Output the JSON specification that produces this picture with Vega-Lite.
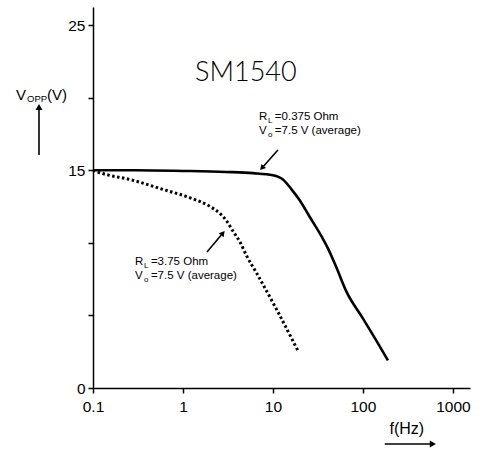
{
  "$schema": "https://vega.github.io/schema/vega-lite/v6.json",
  "width": 377,
  "height": 381,
  "autosize": "none",
  "padding": {"left": 93, "top": 7, "right": 13, "bottom": 62},
  "background": "white",
  "config": {
    "view": {"stroke": null},
    "axis": {
      "grid": false,
      "domainColor": "black",
      "domainWidth": 1.5,
      "tickColor": "black",
      "tickWidth": 1.5,
      "tickSize": 5,
      "labelColor": "black",
      "labelFont": "Liberation Sans",
      "labelFontSize": 15.5,
      "title": null
    }
  },
  "datasets": {
    "curves": [
      {"f": 0.1, "v": 15, "load": "0.375 Ohm"},
      {"f": 0.3, "v": 15, "load": "0.375 Ohm"},
      {"f": 1, "v": 14.95, "load": "0.375 Ohm"},
      {"f": 3, "v": 14.88, "load": "0.375 Ohm"},
      {"f": 6, "v": 14.8, "load": "0.375 Ohm"},
      {"f": 10, "v": 14.65, "load": "0.375 Ohm"},
      {"f": 13, "v": 14.35, "load": "0.375 Ohm"},
      {"f": 16, "v": 13.7, "load": "0.375 Ohm"},
      {"f": 20, "v": 12.9, "load": "0.375 Ohm"},
      {"f": 25, "v": 11.9, "load": "0.375 Ohm"},
      {"f": 35, "v": 10.4, "load": "0.375 Ohm"},
      {"f": 41, "v": 9.6, "load": "0.375 Ohm"},
      {"f": 50, "v": 8.4, "load": "0.375 Ohm"},
      {"f": 66, "v": 6.6, "load": "0.375 Ohm"},
      {"f": 100, "v": 4.8, "load": "0.375 Ohm"},
      {"f": 140, "v": 3.3, "load": "0.375 Ohm"},
      {"f": 190, "v": 1.9, "load": "0.375 Ohm"},
      {"f": 0.1, "v": 15, "load": "3.75 Ohm"},
      {"f": 0.11, "v": 14.9, "load": "3.75 Ohm"},
      {"f": 0.28, "v": 14.3, "load": "3.75 Ohm"},
      {"f": 0.66, "v": 13.6, "load": "3.75 Ohm"},
      {"f": 1.2, "v": 13.1, "load": "3.75 Ohm"},
      {"f": 2.0, "v": 12.5, "load": "3.75 Ohm"},
      {"f": 2.6, "v": 12.0, "load": "3.75 Ohm"},
      {"f": 3.1, "v": 11.45, "load": "3.75 Ohm"},
      {"f": 3.6, "v": 10.8, "load": "3.75 Ohm"},
      {"f": 4.3, "v": 10.05, "load": "3.75 Ohm"},
      {"f": 5.1, "v": 9.1, "load": "3.75 Ohm"},
      {"f": 6.6, "v": 7.9, "load": "3.75 Ohm"},
      {"f": 11, "v": 5.4, "load": "3.75 Ohm"},
      {"f": 19.2, "v": 2.5, "load": "3.75 Ohm"}
    ],
    "title": [{"f": 5.0, "v": 21.7, "text": "SM1540"}],
    "notes": [
      {"f": 6.99, "v": 18.66, "text": "R"},
      {"f": 10.5, "v": 18.66, "text": "=0.375  Ohm"},
      {"f": 6.99, "v": 17.7, "text": "V"},
      {"f": 10.5, "v": 17.7, "text": "=7.5  V  (average)"},
      {"f": 0.293, "v": 8.68, "text": "R"},
      {"f": 0.44, "v": 8.68, "text": "=3.75  Ohm"},
      {"f": 0.293, "v": 7.71, "text": "V"},
      {"f": 0.44, "v": 7.71, "text": "=7.5  V  (average)"}
    ],
    "subs": [
      {"f": 8.8, "v": 18.39, "text": "L"},
      {"f": 8.8, "v": 17.42, "text": "o"},
      {"f": 0.369, "v": 8.4, "text": "L"},
      {"f": 0.369, "v": 7.44, "text": "o"}
    ],
    "axisTitles": [
      {"f": 0.0139, "v": 20.18, "text": "V"},
      {"f": 0.0308, "v": 20.18, "text": "(V)"}
    ],
    "axisSubs": [{"f": 0.0185, "v": 19.9, "text": "OPP"}],
    "xTitle": [{"f": 308, "v": -2.82, "text": "f(Hz)"}],
    "arrows": [
      {"name": "a", "f": 11.37, "v": 16.39, "f2": 7.55, "v2": 15.15},
      {"name": "b", "f": 1.85, "v": 9.37, "f2": 2.78, "v2": 10.67},
      {"name": "y", "f": 0.0251, "v": 16.05, "f2": 0.0251, "v2": 19.35},
      {"name": "x", "f": 175, "v": -3.86, "f2": 599, "v2": -3.86}
    ]
  },
  "encoding": {
    "x": {
      "field": "f",
      "type": "quantitative",
      "scale": {"type": "log", "domain": [0.1, 1550], "nice": false},
      "axis": {"values": [0.1, 1, 10, 100, 1000], "format": "~g", "labelPadding": 6, "labelFlush": false}
    },
    "y": {
      "field": "v",
      "type": "quantitative",
      "scale": {"domain": [0, 26.24], "nice": false, "zero": false},
      "axis": {
        "values": [0, 5, 10, 15, 20, 25],
        "labelExpr": "datum.value == 0 || datum.value == 15 || datum.value == 25 ? datum.label : ''",
        "labelPadding": 3
      }
    }
  },
  "layer": [
    {
      "data": {"name": "curves"},
      "transform": [{"filter": "datum.load == '0.375 Ohm'"}],
      "mark": {"type": "line", "color": "black", "strokeWidth": 2.6, "interpolate": "monotone"}
    },
    {
      "data": {"name": "curves"},
      "transform": [{"filter": "datum.load == '3.75 Ohm'"}],
      "mark": {"type": "line", "color": "black", "strokeWidth": 3, "strokeDash": [2.5, 2.5], "interpolate": "monotone"}
    },
    {
      "data": {"name": "title"},
      "mark": {"type": "text", "font": "Lato", "fontWeight": 300, "fontSize": 27, "align": "center", "baseline": "middle", "color": "black"},
      "encoding": {"text": {"field": "text"}}
    },
    {
      "data": {"name": "notes"},
      "mark": {"type": "text", "font": "Liberation Sans", "fontSize": 11.5, "align": "left", "baseline": "middle", "color": "black"},
      "encoding": {"text": {"field": "text"}}
    },
    {
      "data": {"name": "subs"},
      "mark": {"type": "text", "font": "Liberation Sans", "fontSize": 8, "align": "left", "baseline": "middle", "color": "black"},
      "encoding": {"text": {"field": "text"}}
    },
    {
      "data": {"name": "axisTitles"},
      "mark": {"type": "text", "font": "Liberation Sans", "fontSize": 15, "align": "left", "baseline": "middle", "color": "black"},
      "encoding": {"text": {"field": "text"}}
    },
    {
      "data": {"name": "axisSubs"},
      "mark": {"type": "text", "font": "Liberation Sans", "fontSize": 9.5, "align": "left", "baseline": "middle", "color": "black"},
      "encoding": {"text": {"field": "text"}}
    },
    {
      "data": {"name": "xTitle"},
      "mark": {"type": "text", "font": "Liberation Sans", "fontSize": 16, "align": "center", "baseline": "middle", "color": "black"},
      "encoding": {"text": {"field": "text"}}
    },
    {
      "data": {"name": "arrows"},
      "mark": {"type": "rule", "color": "black", "strokeWidth": 1.6},
      "encoding": {"x2": {"field": "f2"}, "y2": {"field": "v2"}}
    },
    {
      "data": {"name": "arrows"},
      "transform": [{"filter": "datum.name == 'a'"}],
      "mark": {"type": "point", "shape": "triangle-up", "filled": true, "color": "black", "size": 40, "angle": 221.6, "opacity": 1},
      "encoding": {"x": {"field": "f2", "type": "quantitative"}, "y": {"field": "v2", "type": "quantitative"}}
    },
    {
      "data": {"name": "arrows"},
      "transform": [{"filter": "datum.name == 'b'"}],
      "mark": {"type": "point", "shape": "triangle-up", "filled": true, "color": "black", "size": 40, "angle": 40, "opacity": 1},
      "encoding": {"x": {"field": "f2", "type": "quantitative"}, "y": {"field": "v2", "type": "quantitative"}}
    },
    {
      "data": {"name": "arrows"},
      "transform": [{"filter": "datum.name == 'y'"}],
      "mark": {"type": "point", "shape": "triangle-up", "filled": true, "color": "black", "size": 50, "angle": 0, "opacity": 1},
      "encoding": {"x": {"field": "f2", "type": "quantitative"}, "y": {"field": "v2", "type": "quantitative"}}
    },
    {
      "data": {"name": "arrows"},
      "transform": [{"filter": "datum.name == 'x'"}],
      "mark": {"type": "point", "shape": "triangle-up", "filled": true, "color": "black", "size": 50, "angle": 90, "opacity": 1},
      "encoding": {"x": {"field": "f2", "type": "quantitative"}, "y": {"field": "v2", "type": "quantitative"}}
    }
  ]
}
